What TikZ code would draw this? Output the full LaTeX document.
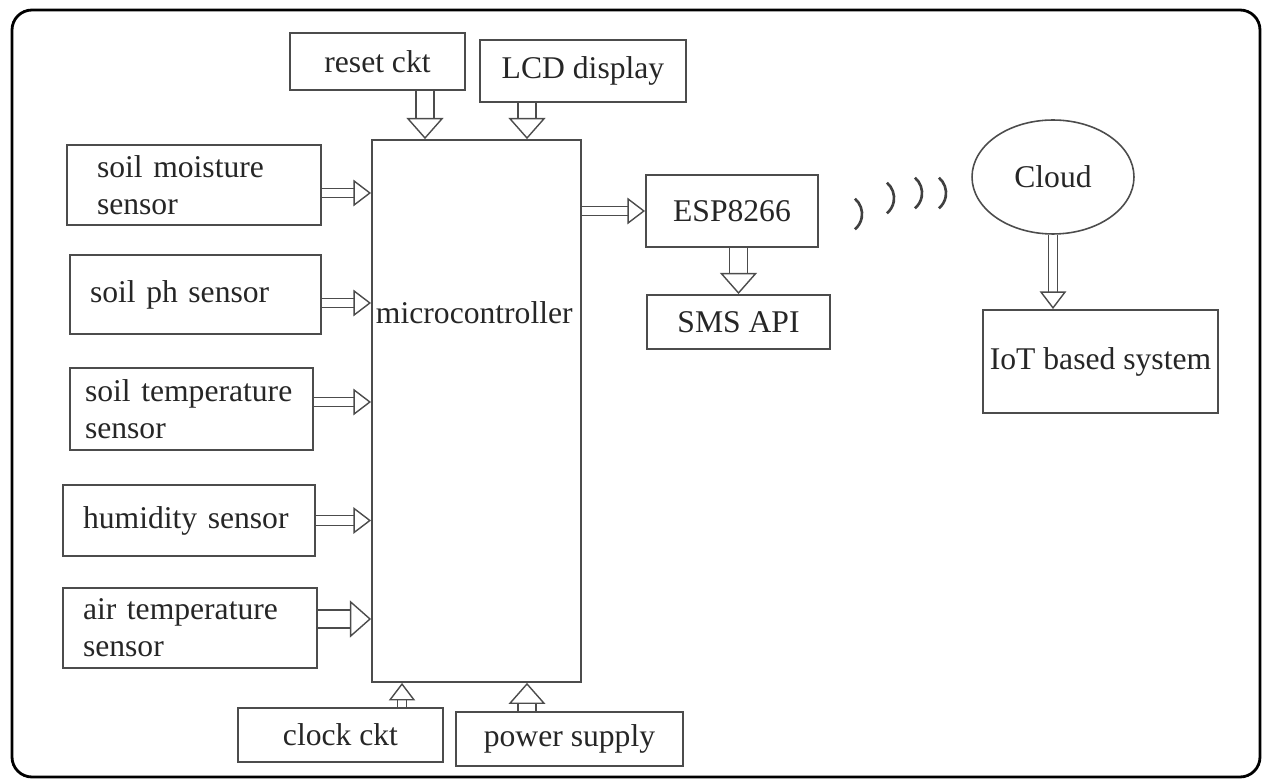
\documentclass[tikz,border=0pt]{standalone}
\usepackage{fontspec}
\setmainfont{Liberation Serif}
\usetikzlibrary{positioning,arrows.meta,shapes.geometric,calc}
\hyphenpenalty=10000

\begin{document}
\begin{tikzpicture}[
      x=0.02cm, y=-0.02cm,
      box/.style={draw=black!70, line width=1.1pt, align=center, inner sep=2pt,
                  text=black!85, font=\fontsize{18}{21}\selectfont},
      sensor/.style={box, align=left, inner xsep=0.4cm},
      barrow/.style={double=white, double distance=9.6pt, line width=0.7pt, draw=black!70,
                     -{Triangle[open, length=12pt, width=21pt, line width=0.8pt]}},
      sarrow/.style={double=white, double distance=4.8pt, line width=0.7pt, draw=black!70,
                     -{Triangle[open, length=10pt, width=15pt, line width=0.8pt]}},
      wave/.style={draw=black!75, line width=1.5pt}
  ]
  \useasboundingbox (0,0) rectangle (1265,780);

  %% ---- Outer frame ----
  \draw[line width=1.6pt, rounded corners=0.4cm] (12,10) rectangle (1260,777);

  %% ---- Microcontroller ----
  \node[box, minimum width=4.18cm, minimum height=10.84cm] (micro) at (476.5,411) {};
  \node[box, draw=none, inner sep=0pt, anchor=west] (micro-text) at (375,313) {microcontroller};

  %% ---- Top blocks ----
  \node[box, minimum width=3.5cm, minimum height=1.14cm] (reset) at (377.5,61.5) {reset ckt};
  \node[box, minimum width=4.12cm, minimum height=1.24cm] (lcd) at (583,71) {LCD display};

  %% ---- Sensors (left) ----
  \node[sensor, inner xsep=0.6cm, text width=3.88cm, minimum height=1.6cm] (moist) at (194,185)
      {soil moisture\\sensor};
  \node[sensor, text width=4.22cm, minimum height=1.58cm] (ph) at (195.5,294.5)
      {soil ph sensor};
  \node[sensor, inner xsep=0.3cm, text width=4.26cm, minimum height=1.64cm] (stemp) at (191.5,409)
      {soil temperature\\sensor};
  \node[sensor, text width=4.24cm, minimum height=1.42cm] (humid) at (189,520.5)
      {humidity sensor};
  \node[sensor, text width=4.28cm, minimum height=1.6cm] (atemp) at (190,628)
      {air temperature\\sensor};

  %% ---- Bottom blocks ----
  \node[box, minimum width=4.1cm, minimum height=1.08cm] (clock) at (340.5,735) {clock ckt};
  \node[box, minimum width=4.54cm, minimum height=1.08cm] (power) at (569.5,739) {power supply};

  %% ---- Communication ----
  \node[box, minimum width=3.44cm, minimum height=1.44cm] (esp) at (732,211) {ESP8266};
  \node[box, minimum width=3.66cm, minimum height=1.08cm] (sms) at (738.5,322) {SMS API};
  \node[box, ellipse, line width=0.9pt, inner sep=0pt, minimum width=3.24cm,
        minimum height=2.28cm] (cloud) at (1053,177) {Cloud};
  \node[box, inner xsep=0pt, minimum width=4.7cm, minimum height=2.06cm] (iot)
      at (1100.5,361.5) {IoT based system};

  %% ---- Connections ----
  \coordinate (reset-out) at ($(reset.south)+(47.5,0)$);
  \coordinate (lcd-out) at ($(lcd.south)+(-56,0)$);
  \coordinate (clock-out) at ($(clock.north)+(61.5,0)$);
  \coordinate (power-out) at ($(power.north)+(-42.5,0)$);
  \coordinate (moist-out) at ($(moist.east)+(0,8)$);
  \coordinate (ph-out) at ($(ph.east)+(0,8.5)$);
  \coordinate (stemp-out) at ($(stemp.east)+(0,-7)$);
  \coordinate (atemp-out) at ($(atemp.east)+(0,-9)$);

  % top and bottom blocks into the microcontroller
  \draw[barrow] (reset-out) -- (reset-out |- micro.north);
  \draw[barrow] (lcd-out) -- (lcd-out |- micro.north);
  \draw[sarrow] (clock-out) -- (clock-out |- micro.south);
  \draw[barrow] (power-out) -- (power-out |- micro.south);

  % sensors into the microcontroller
  \draw[sarrow] (moist-out) -- (moist-out -| micro.west);
  \draw[sarrow] (ph-out) -- (ph-out -| micro.west);
  \draw[sarrow] (stemp-out) -- (stemp-out -| micro.west);
  \draw[sarrow] (humid.east) -- (humid.east -| micro.west);
  \draw[barrow] (atemp-out) -- (atemp-out -| micro.west);

  % microcontroller -> ESP8266 -> SMS API, Cloud -> IoT
  \draw[sarrow] (esp.west -| micro.east) -- (esp.west);
  \draw[barrow] (sms.north |- esp.south) -- (sms.north);
  \draw[sarrow] (cloud.south) -- (cloud.south |- iot.north);

  %% ---- Radio waves ----
  \draw[wave] (854.9,198.7) arc[start angle=-50, end angle=50, radius=20];
  \draw[wave] (886.9,182.7) arc[start angle=-50, end angle=50, radius=20];
  \draw[wave] (914.9,177.7) arc[start angle=-50, end angle=50, radius=20];
  \draw[wave] (938.9,177.7) arc[start angle=-50, end angle=50, radius=20];

\end{tikzpicture}
\end{document}
